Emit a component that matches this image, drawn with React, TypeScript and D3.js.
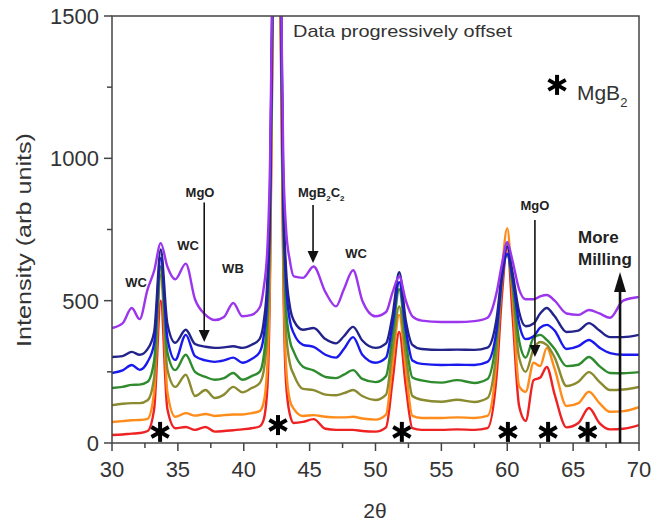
import React from 'react';
import * as d3 from 'd3';

const W = 654;
const H = 525;

// 2θ sample positions shared by all scans
const twoTheta = [30, 30.8, 31.5, 32.1, 32.7, 33.2, 33.7, 34.2, 34.8, 35.6, 36.3, 37.1, 37.8, 38.5, 39.2, 39.9, 40.6, 41.2, 41.5, 41.8, 42.0, 42.15, 42.5, 42.85, 43.0, 43.2, 43.5, 43.8, 44.5, 45.3, 46.2, 47.0, 47.6, 48.3, 49.0, 50.0, 50.8, 51.3, 51.8, 52.3, 52.8, 53.5, 55.0, 56.2, 57.5, 58.5, 59.2, 59.6, 60.0, 60.4, 60.9, 61.4, 62.0, 62.5, 63.0, 63.6, 64.5, 65.4, 66.2, 67.0, 67.8, 68.8, 70];

const redScan = [28, 30, 33, 35, 42, 120, 500, 120, 52, 56, 46, 56, 40, 42, 45, 48, 52, 58, 80, 200, 600, 1250, 2400, 1250, 600, 220, 100, 70, 74, 84, 50, 46, 46, 46, 42, 40, 55, 220, 390, 200, 52, 46, 46, 48, 46, 52, 240, 520, 690, 450, 130, 78, 221, 230, 267, 170, 55, 70, 123, 70, 48, 50, 63];
const orangeScan = [74, 77, 80, 81, 85, 180, 620, 180, 92, 105, 96, 102, 95, 98, 100, 100, 105, 112, 140, 280, 650, 1300, 2500, 1300, 650, 280, 150, 120, 95, 98, 92, 90, 90, 92, 86, 82, 100, 280, 450, 260, 95, 88, 88, 90, 88, 95, 300, 600, 755, 520, 200, 180, 282, 270, 334, 260, 130, 140, 180, 140, 110, 112, 126];
const oliveScan = [133, 138, 140, 140, 150, 230, 590, 260, 197, 240, 165, 186, 158, 170, 197, 178, 193, 210, 250, 400, 750, 1350, 2600, 1350, 750, 400, 280, 240, 190, 186, 170, 168, 175, 186, 165, 151, 170, 330, 480, 310, 165, 152, 145, 152, 144, 158, 330, 560, 700, 540, 300, 250, 330, 355, 345, 300, 200, 215, 249, 215, 186, 188, 197];
const greenScan = [193, 197, 204, 205, 215, 290, 620, 320, 256, 310, 250, 232, 222, 228, 246, 222, 235, 250, 300, 460, 800, 1400, 2700, 1400, 800, 480, 360, 320, 268, 255, 232, 228, 240, 256, 225, 214, 235, 380, 540, 360, 230, 220, 212, 221, 211, 225, 380, 590, 660, 560, 360, 300, 370, 380, 362, 330, 270, 275, 302, 270, 246, 245, 249];
const blueScan = [246, 255, 274, 257, 285, 350, 650, 370, 292, 380, 305, 290, 285, 290, 300, 282, 295, 318, 370, 530, 860, 1450, 2800, 1450, 860, 570, 430, 385, 345, 338, 310, 300, 330, 372, 310, 282, 300, 420, 565, 400, 290, 278, 274, 275, 274, 285, 400, 580, 665, 580, 420, 365, 375, 405, 415, 395, 330, 340, 362, 335, 316, 310, 310];
const navyScan = [302, 305, 320, 310, 330, 390, 680, 420, 352, 398, 348, 338, 334, 336, 340, 334, 345, 365, 420, 580, 900, 1500, 2900, 1500, 900, 620, 480, 430, 398, 404, 365, 350, 375, 408, 360, 334, 350, 450, 600, 430, 345, 330, 327, 328, 327, 335, 440, 600, 690, 600, 460, 410, 420, 455, 474, 445, 390, 395, 421, 395, 372, 372, 380];
const purpleScan = [404, 420, 474, 435, 540, 605, 702, 620, 575, 630, 505, 450, 432, 443, 492, 445, 450, 475, 540, 690, 1000, 1550, 3000, 1550, 1000, 760, 640, 585, 580, 620, 530, 480, 540, 607, 500, 445, 460, 530, 585, 500, 445, 430, 425, 425, 428, 440, 530, 630, 705, 640, 540, 505, 505, 515, 520, 500, 455, 450, 467, 455, 440, 500, 513];

const scans = [redScan, orangeScan, oliveScan, greenScan, blueScan, navyScan, purpleScan];
const scanColors = ['#ee2222', '#ff8c1a', '#8a8a30', '#2e8b2e', '#1a1aee', '#23238c', '#9b35ee'];

const xTicks = [30, 35, 40, 45, 50, 55, 60, 65, 70];
const xMinorTicks = [32.5, 37.5, 42.5, 47.5, 52.5, 57.5, 62.5, 67.5];
const yTicks = [0, 500, 1000, 1500];
const yMinorTicks = [250, 750, 1250];

// MgB2 reflections marked with asterisks
const starTheta = [33.65, 42.6, 52.0, 60.05, 63.1, 66.1];
const starLevel = [39, 63, 39, 39, 39, 39];

export default function App() {
  const x = d3.scaleLinear().domain([30, 70]).range([112, 639]);
  const y = d3.scaleLinear().domain([0, 1500]).range([443, 16]);
  const font = "'Liberation Sans', Arial, Helvetica, sans-serif";

  const line = d3
    .line<number>()
    .x((_, i) => x(twoTheta[i]))
    .y((d) => y(d))
    .curve(d3.curveMonotoneX);

  const star = (cx: number, cy: number, r: number, key: string) => (
    <g key={key} stroke="#000" strokeWidth={4} strokeLinecap="butt">
      {[90, 30, 150].map((a) => {
        const rad = (a * Math.PI) / 180;
        return (
          <line
            key={a}
            x1={cx - r * Math.cos(rad)}
            y1={cy - r * Math.sin(rad)}
            x2={cx + r * Math.cos(rad)}
            y2={cy + r * Math.sin(rad)}
          />
        );
      })}
    </g>
  );

  const arrowDown = (t: number, v0: number, v1: number, key: string) => {
    const ax = x(t);
    const ya = y(v0);
    const yb = y(v1);
    return (
      <g key={key}>
        <line x1={ax} x2={ax} y1={ya} y2={yb - 10} stroke="#111" strokeWidth={1.6} />
        <path d={`M${ax - 5.5},${yb - 12} L${ax + 5.5},${yb - 12} L${ax},${yb} Z`} fill="#111" />
      </g>
    );
  };

  const bold = { fontFamily: font, fontWeight: 700, fill: '#222' } as const;

  return (
    <svg width={W} height={H} style={{ position: 'absolute', left: 0, top: 0, background: '#fff' }}>
      <defs>
        <clipPath id="plotClip">
          <rect x={112} y={16} width={527} height={427} />
        </clipPath>
      </defs>

      {/* scans */}
      <g clipPath="url(#plotClip)" fill="none" strokeWidth={2.4} strokeLinejoin="round">
        {scans.map((s, i) => (
          <path key={i} d={line(s) || ''} stroke={scanColors[i]} />
        ))}
      </g>

      {/* frame */}
      <rect x={112} y={16} width={527} height={427} fill="none" stroke="#444" strokeWidth={1.5} />

      {/* ticks */}
      <g stroke="#444" strokeWidth={1.5}>
        {xTicks.map((t) => (
          <line key={'xt' + t} x1={x(t)} x2={x(t)} y1={443} y2={451} />
        ))}
        {xMinorTicks.map((t) => (
          <line key={'xm' + t} x1={x(t)} x2={x(t)} y1={443} y2={448} />
        ))}
        {yTicks.map((v) => (
          <line key={'yt' + v} x1={104} x2={112} y1={y(v)} y2={y(v)} />
        ))}
        {yMinorTicks.map((v) => (
          <line key={'ym' + v} x1={107} x2={112} y1={y(v)} y2={y(v)} />
        ))}
      </g>
      <g fontFamily={font} fontSize={22} fill="#333">
        {xTicks.map((t) => (
          <text key={'xl' + t} x={x(t)} y={477} textAnchor="middle">
            {t}
          </text>
        ))}
        {yTicks.map((v) => (
          <text key={'yl' + v} x={99} y={y(v) + 8} textAnchor="end">
            {v}
          </text>
        ))}
      </g>

      {/* axis titles */}
      <text x={375} y={518} textAnchor="middle" fontFamily={font} fontSize={21} fill="#333">
        2θ
      </text>
      <text
        transform="translate(31,240) rotate(-90)"
        textAnchor="middle"
        fontFamily={font}
        fontSize={21}
        fill="#333"
        textLength={214}
        lengthAdjust="spacingAndGlyphs"
      >
        Intensity (arb units)
      </text>

      {/* top note */}
      <text x={x(43.74)} y={y(1426)} fontFamily={font} fontSize={17} fill="#333" textLength={219} lengthAdjust="spacingAndGlyphs">
        Data progressively offset
      </text>

      {/* legend */}
      {star(x(63.78), y(1258), 10, 'legstar')}
      <text x={x(65.29)} y={y(1205)} fontFamily={font} fontSize={21} fill="#333">
        MgB
        <tspan dy={7} fontSize={13}>2</tspan>
      </text>

      {/* asterisks */}
      {starTheta.map((t, i) => star(x(t), y(starLevel[i]), 10, 'st' + i))}

      {/* phase labels */}
      <g fontSize={13}>
        <text {...bold} x={x(31.82)} y={y(548)} textAnchor="middle">WC</text>
        <text {...bold} x={x(35.77)} y={y(678)} textAnchor="middle">WC</text>
        <text {...bold} x={x(36.68)} y={y(864)} textAnchor="middle">MgO</text>
        <text {...bold} x={x(39.18)} y={y(597)} textAnchor="middle">WB</text>
        <text {...bold} x={x(48.52)} y={y(650)} textAnchor="middle">WC</text>
        <text {...bold} x={x(62.1)} y={y(818)} textAnchor="middle">MgO</text>
        <text {...bold} x={x(44.12)} y={y(864)}>
          MgB<tspan dy={4} fontSize={8}>2</tspan>
          <tspan dy={-4}>C</tspan>
          <tspan dy={4} fontSize={8}>2</tspan>
        </text>
      </g>
      <g fontSize={17}>
        <text {...bold} x={x(65.37)} y={y(703)}>More</text>
        <text {...bold} x={x(65.37)} y={y(625)}>Milling</text>
      </g>

      {/* arrows */}
      {arrowDown(37.0, 845, 355, 'a1')}
      {arrowDown(45.26, 836, 632, 'a2')}
      {arrowDown(62.1, 783, 302, 'a3')}
      <g>
        <line x1={x(68.56)} x2={x(68.56)} y1={y(0)} y2={y(560)} stroke="#111" strokeWidth={2.6} />
        <path d={`M${x(68.56) - 6},${y(601) + 20} L${x(68.56) + 6},${y(601) + 20} L${x(68.56)},${y(601)} Z`} fill="#111" />
      </g>
    </svg>
  );
}
